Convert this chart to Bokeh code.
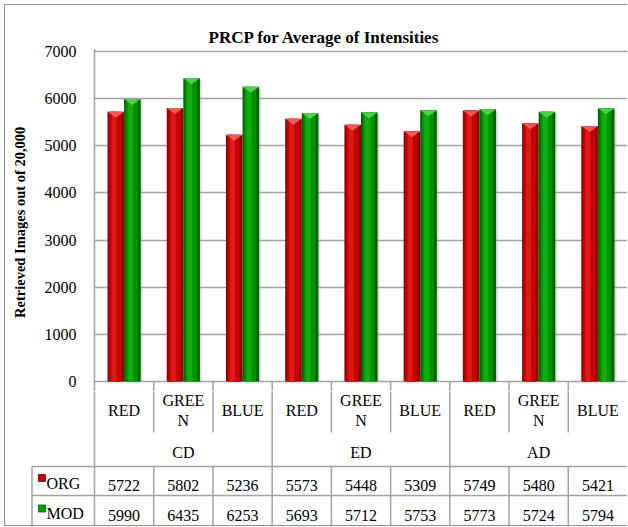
from bokeh.plotting import figure
from bokeh.models import Range1d, FixedTicker
from bokeh.layouts import column
from bokeh.core.properties import value
from bokeh.embed import file_html
from bokeh.resources import INLINE

# ---------------- data ----------------
groups = ["CD", "ED", "AD"]
channels = ["RED", "GREEN", "BLUE"]
channel_labels = ["RED", "GREE\nN", "BLUE"]
series_names = ["ORG", "MOD"]
org = [5722, 5802, 5236, 5573, 5448, 5309, 5749, 5480, 5421]
mod = [5990, 6435, 6253, 5693, 5712, 5753, 5773, 5724, 5794]
y_ticks = [0, 1000, 2000, 3000, 4000, 5000, 6000, 7000]

title_text = "PRCP for Average of Intensities"
y_title = "Retrieved Images out of  20,000"

# ---------------- layout constants ----------------
FONT = "Liberation Serif"
GRID = "#a3a3a3"
N = len(org)
FRAME_W = 533
PPX = FRAME_W / N                 # px per column
PY = 330 / 7000                   # px per unit on value axis
BW = 0.28                         # bar width (columns)
OFF = 0.14
W = 622

cols = [i + 0.5 for i in range(N)]
cat_text = [channel_labels[i % 3] for i in range(N)]

# ---------------- chart figure ----------------
pA = figure(width=W, height=386, x_range=Range1d(0, N),
            y_range=Range1d(-10 / PY, 7000 + 2 / PY),
            output_backend="svg", toolbar_location=None,
            x_axis_location=None, min_border_left=W - FRAME_W, min_border_right=0,
            min_border_top=44, min_border_bottom=0, title=title_text)
pA.frame_align = False
pA.outline_line_color = None
pA.background_fill_color = "white"
pA.border_fill_color = "white"
pA.title.text_font = FONT
pA.title.text_font_size = "17px"
pA.title.text_font_style = "bold"
pA.title.text_color = "black"
pA.title.align = "left"
pA.title.offset = 114
pA.title.standoff = 6

ax = pA.yaxis[0]
ax.ticker = FixedTicker(ticks=y_ticks)
ax.major_tick_in = 0
ax.major_tick_out = 0
ax.minor_tick_in = 0
ax.minor_tick_out = 0
ax.major_label_standoff = 18
ax.major_label_text_font = FONT
ax.major_label_text_font_size = "16px"
ax.major_label_text_color = "black"
ax.axis_line_color = GRID
ax.axis_line_width = 1.5
ax.axis_label = y_title
ax.axis_label_text_font = FONT
ax.axis_label_text_font_size = "14.5px"
ax.axis_label_text_font_style = "bold"
ax.axis_label_text_color = "black"
ax.axis_label_standoff = 14

pA.xgrid.visible = False
pA.ygrid.ticker = FixedTicker(ticks=y_ticks)
pA.ygrid.grid_line_color = GRID
pA.ygrid.grid_line_width = 1.6

# short cell separators below the zero line
sep_x = [float(i) for i in range(1, N)]
pA.segment(x0=sep_x, y0=[0] * len(sep_x), x1=sep_x, y1=[-10 / PY] * len(sep_x),
           line_color=GRID, line_width=1.5)


def draw_bars(xs, vals, dark, body, light, bevel):
    sh = 2 / PPX
    pA.vbar(x=[x + sh for x in xs], top=[v - 2 / PY for v in vals], bottom=0,
            width=BW, fill_color="#9a9a9a", fill_alpha=0.35, line_color=None)
    pA.vbar(x=xs, top=vals, bottom=0, width=BW, fill_color=dark, line_color=None)
    pA.vbar(x=[x - 0.01 for x in xs], top=vals, bottom=0, width=BW * 0.72,
            fill_color=body, line_color=None)
    pA.vbar(x=[x - 0.03 for x in xs], top=vals, bottom=0, width=BW * 0.3,
            fill_color=light, line_color=None)
    d = 6 / PY
    pA.patches(xs=[[x - BW / 2, x + BW / 2, x] for x in xs],
               ys=[[v, v, v - d] for v in vals],
               fill_color=bevel, line_color=None, fill_alpha=0.9)


draw_bars([c - OFF for c in cols], org, "#930000", "#c80000", "#dc1a1a", "#f06060")
draw_bars([c + OFF for c in cols], mod, "#006400", "#009300", "#12ad12", "#55d455")

# ---------------- data table figure ----------------
LEFT_PX = 64
pT = figure(width=W, height=134, x_range=Range1d(-LEFT_PX / PPX, N),
            y_range=Range1d(134, 0), output_backend="svg", toolbar_location=None,
            x_axis_location=None, y_axis_location=None,
            min_border_left=W - FRAME_W - LEFT_PX, min_border_right=0,
            min_border_top=0, min_border_bottom=0)
pT.frame_align = False
pT.outline_line_color = None
pT.background_fill_color = "white"
pT.border_fill_color = "white"
pT.grid.visible = False

xl = -(LEFT_PX - 1.5) / PPX       # left border of legend column
R_CAT, R_GRP, R_ORG, R_MOD = 41, 75, 104, 134   # row bottoms (px)

# vertical lines
inner = [i for i in range(1, N) if i % 3 != 0]
major = [0] + [i for i in range(1, N) if i % 3 == 0]
pT.segment(x0=inner, y0=[0] * len(inner), x1=inner, y1=[R_CAT] * len(inner),
           line_color=GRID, line_width=1.5)
pT.segment(x0=inner, y0=[R_GRP] * len(inner), x1=inner, y1=[R_MOD] * len(inner),
           line_color=GRID, line_width=1.5)
pT.segment(x0=major, y0=[0] * len(major), x1=major, y1=[R_MOD] * len(major),
           line_color=GRID, line_width=1.5)
pT.segment(x0=[xl], y0=[R_GRP], x1=[xl], y1=[R_MOD], line_color=GRID, line_width=1.5)
# horizontal lines
pT.segment(x0=[xl, xl], y0=[R_GRP, R_ORG], x1=[N, N], y1=[R_GRP, R_ORG],
           line_color=GRID, line_width=1.5)

common = dict(text_font=value(FONT), text_font_size="16px", text_color="black",
              text_baseline="middle")
pT.text(x=cols, y=[19] * N, text=cat_text, text_align="center",
        text_line_height=1.22, **common)
pT.text(x=[1.5, 4.5, 7.5], y=[61] * 3, text=groups, text_align="center", **common)
pT.text(x=cols, y=[94] * N, text=[str(v) for v in org], text_align="center", **common)
pT.text(x=cols, y=[124] * N, text=[str(v) for v in mod], text_align="center", **common)

lx = -(94 - 46) / PPX
sx = -(94 - 41.5) / PPX
pT.text(x=[lx, lx], y=[92, 122], text=series_names, text_align="left", **common)
pT.scatter(x=[sx], y=[86.5], marker="square", size=7, fill_color="#c00000",
           line_color="#800000", line_width=0.8)
pT.scatter(x=[sx], y=[117], marker="square", size=7, fill_color="#00a000",
           line_color="#006000", line_width=0.8)

layout = column(pA, pT, spacing=0,
                styles={"border-left": "1px solid #8f8f8f",
                        "border-top": "1px solid #8f8f8f",
                        "border-bottom": "1px solid #8f8f8f",
                        "margin-left": "4px", "margin-top": "4px"})

open("out.html", "w").write(file_html(layout, INLINE))
